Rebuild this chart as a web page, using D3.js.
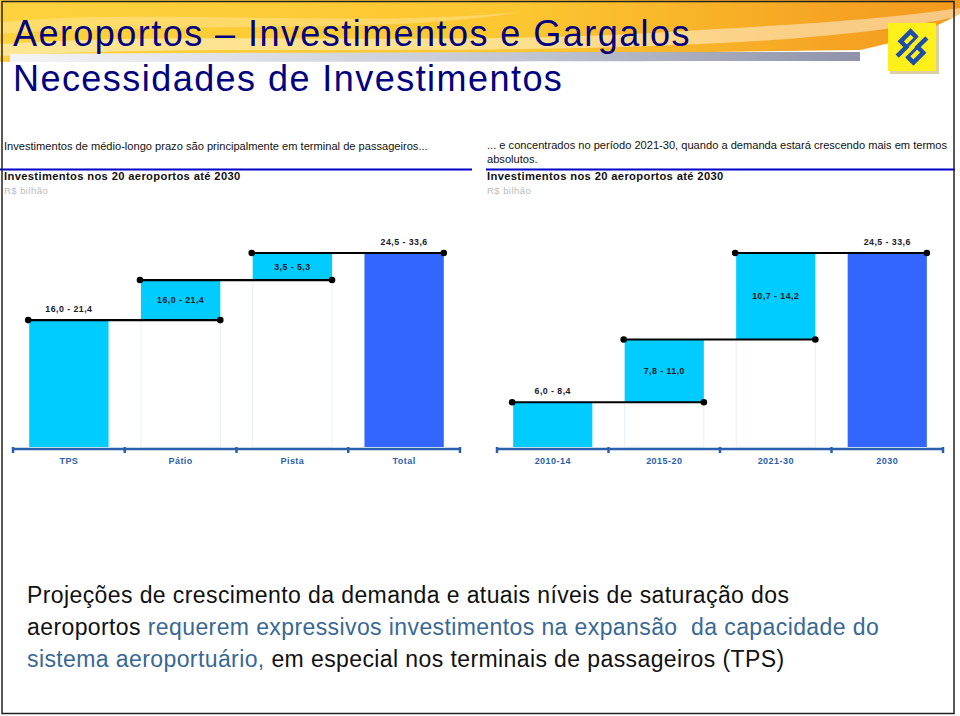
<!DOCTYPE html>
<html>
<head>
<meta charset="utf-8">
<script src="https://cdn.jsdelivr.net/npm/d3@7"></script>
<style>
  body { margin: 0; background: #fff; }
  svg { display: block; font-family: "Liberation Sans", Arial, sans-serif; }
</style>
</head>
<body>
<svg id="chart" width="960" height="716"></svg>
<script>
// left chart: breakdown by component
var catsL = ['TPS', 'Pátio', 'Pista', 'Total'];
var valsL = [19.0, 6.0, 4.05];
var labelsL = ['16,0 - 21,4', '16,0 - 21,4', '3,5 - 5,3', '24,5 - 33,6'];

// right chart: breakdown by period
var catsR = ['2010-14', '2015-20', '2021-30', '2030'];
var valsR = [6.7, 9.4, 12.95];
var labelsR = ['6,0 - 8,4', '7,8 - 11,0', '10,7 - 14,2', '24,5 - 33,6'];

var cyan = '#00ccff', blue = '#3366ff', axisCol = '#2a5fae';

var svg = d3.select('#chart');

// ---- header ----
var defs = svg.append('defs');
var g1 = defs.append('linearGradient').attr('id', 'hdr').attr('x1', 0).attr('x2', 1).attr('y1', 0).attr('y2', 0);
g1.append('stop').attr('offset', '0%').attr('stop-color', '#fdd23c');
g1.append('stop').attr('offset', '55%').attr('stop-color', '#fcc630');
g1.append('stop').attr('offset', '85%').attr('stop-color', '#f6a623');
g1.append('stop').attr('offset', '100%').attr('stop-color', '#f39a1c');
var g2 = defs.append('linearGradient').attr('id', 'band').attr('x1', 0).attr('x2', 1).attr('y1', 0).attr('y2', 0);
g2.append('stop').attr('offset', '0%').attr('stop-color', '#f4f4f6');
g2.append('stop').attr('offset', '60%').attr('stop-color', '#c3c6d2');
g2.append('stop').attr('offset', '100%').attr('stop-color', '#8e93aa');

svg.append('path')
    .attr('d', 'M0,0 H960 V14 C930,30 900,42 860,50 L0,62 Z')
    .attr('fill', 'url(#hdr)');
svg.append('path')
    .attr('d', 'M0,44 C200,30 450,48 700,30 C800,24 880,20 960,8 V16 C900,30 800,40 700,44 C450,56 200,44 0,56 Z')
    .attr('fill', '#fff').attr('opacity', 0.45);
svg.append('path')
    .attr('d', 'M0,22 C150,8 350,28 520,12 C400,34 180,22 0,34 Z')
    .attr('fill', '#fff').attr('opacity', 0.25);
svg.append('path')
    .attr('d', 'M10,54 C300,52 600,52 860,52 L860,61 C600,61 300,62 10,62 Z')
    .attr('fill', 'url(#band)');

svg.append('text').attr('x', 13).attr('y', 46)
    .attr('font-size', 36).attr('letter-spacing', 1.45).attr('fill', '#000080')
    .text('Aeroportos – Investimentos e Gargalos');
svg.append('text').attr('x', 13).attr('y', 91)
    .attr('font-size', 36).attr('letter-spacing', 1.45).attr('fill', '#000080')
    .text('Necessidades de Investimentos');

// logo
var logo = svg.append('g').attr('transform', 'translate(888,23)');
logo.append('rect').attr('x', 2).attr('y', 2).attr('width', 49).attr('height', 49).attr('fill', '#b8a24a').attr('opacity', 0.5);
logo.append('rect').attr('width', 48).attr('height', 48).attr('fill', '#ffef1a');
var lg = logo.append('g').attr('transform', 'translate(24,24) rotate(-45)');
lg.append('path')
    .attr('d', 'M-17,-4 H-4 V-12 H10 V-4 M17,4 H4 V12 H-10 V4')
    .attr('fill', 'none').attr('stroke', '#1d4fa8').attr('stroke-width', 4.5);
lg.append('path')
    .attr('d', 'M-12,-4 H12 M-12,4 H12')
    .attr('fill', 'none').attr('stroke', '#1d4fa8').attr('stroke-width', 3);

// ---- sub headings ----
svg.append('text').attr('x', 4).attr('y', 150).attr('font-size', 11.1).attr('fill', '#111')
    .text('Investimentos de médio-longo prazo são principalmente em terminal de passageiros...');
svg.append('text').attr('x', 487).attr('y', 149).attr('font-size', 11.1).attr('fill', '#111')
    .text('... e concentrados no período 2021-30, quando a demanda estará crescendo mais em termos');
svg.append('text').attr('x', 487).attr('y', 163).attr('font-size', 11.1).attr('fill', '#111')
    .text('absolutos.');

[[0, 472], [486, 955]].forEach(function(r) {
    svg.append('line').attr('x1', r[0]).attr('x2', r[1]).attr('y1', 169.5).attr('y2', 169.5)
        .attr('stroke', '#0000c8').attr('stroke-width', 2);
});
[4, 487].forEach(function(x) {
    svg.append('text').attr('x', x).attr('y', 180).attr('font-size', 11.2).attr('font-weight', 'bold')
        .attr('letter-spacing', 0.35).attr('fill', '#111')
        .text('Investimentos nos 20 aeroportos até 2030');
    svg.append('text').attr('x', x).attr('y', 194).attr('font-size', 9.6).attr('letter-spacing', 0.4)
        .attr('fill', '#bcbcbc').text('R$ bilhão');
});

// ---- waterfall charts ----
var y = d3.scaleLinear().domain([0, 29.05]).range([447, 253]);

function waterfall(cats, vals, labels, x0, x1) {
    var g = svg.append('g');
    var x = d3.scaleBand().domain(cats).range([x0, x1]).paddingInner(0.29).paddingOuter(0.145);
    var total = d3.sum(vals);
    var cum = [0];
    vals.forEach(function(v, i) { cum.push(cum[i] + v); });
    var bars = vals.map(function(v, i) {
        return {cat: cats[i], lo: cum[i], hi: cum[i + 1], label: labels[i], color: cyan, kind: i === 0 ? 'first' : 'mid'};
    });
    bars.push({cat: cats[cats.length - 1], lo: 0, hi: total, label: labels[labels.length - 1], color: blue, kind: 'total'});

    // faint outline of the invisible base parts
    g.selectAll('rect.base').data(bars.filter(function(d) { return d.lo > 0; }))
        .enter().append('rect').attr('class', 'base')
        .attr('x', function(d) { return x(d.cat); })
        .attr('y', function(d) { return y(d.lo); })
        .attr('width', x.bandwidth())
        .attr('height', function(d) { return y(0) - y(d.lo); })
        .attr('fill', 'none').attr('stroke', '#e9eff6').attr('stroke-width', 1);

    g.selectAll('rect.bar').data(bars).enter().append('rect').attr('class', 'bar')
        .attr('x', function(d) { return x(d.cat); })
        .attr('y', function(d) { return y(d.hi); })
        .attr('width', x.bandwidth())
        .attr('height', function(d) { return y(d.lo) - y(d.hi); })
        .attr('fill', function(d) { return d.color; });

    // connector lines
    var conns = vals.map(function(v, i) {
        return {x1: x(cats[i]) - 1, x2: x(cats[i + 1]) + x.bandwidth(), v: cum[i + 1]};
    });
    g.selectAll('line.conn').data(conns).enter().append('line').attr('class', 'conn')
        .attr('x1', function(d) { return d.x1; }).attr('x2', function(d) { return d.x2; })
        .attr('y1', function(d) { return y(d.v); }).attr('y2', function(d) { return y(d.v); })
        .attr('stroke', '#000').attr('stroke-width', 2.2);
    var dots = [];
    conns.forEach(function(d) { dots.push([d.x1, d.v], [d.x2, d.v]); });
    g.selectAll('circle').data(dots).enter().append('circle')
        .attr('cx', function(d) { return d[0]; }).attr('cy', function(d) { return y(d[1]); })
        .attr('r', 3.3).attr('fill', '#000');

    // value labels
    g.selectAll('text.lab').data(bars).enter().append('text').attr('class', 'lab')
        .attr('x', function(d) { return x(d.cat) + x.bandwidth() / 2; })
        .attr('y', function(d) {
            return d.kind === 'mid' ? (y(d.lo) + y(d.hi)) / 2 + 3 : y(d.hi) - 8;
        })
        .attr('text-anchor', 'middle').attr('font-size', 8.8).attr('font-weight', 'bold')
        .attr('letter-spacing', 0.45).attr('fill', '#1a1a2a')
        .text(function(d) { return d.label; });

    // axis
    var ax = g.append('g').attr('transform', 'translate(0,449)');
    ax.call(d3.axisBottom(x).tickSize(0).tickPadding(9))
        .call(function(s) { s.select('.domain').remove(); });
    ax.selectAll('text').attr('font-size', 9).attr('font-weight', 'bold').attr('letter-spacing', 0.45)
        .attr('fill', axisCol).attr('font-family', '"Liberation Sans", Arial, sans-serif');
    ax.append('line').attr('x1', x0).attr('x2', x1).attr('stroke', axisCol).attr('stroke-width', 2.5);
    var step = x.step();
    var bounds = d3.range(cats.length + 1).map(function(i) { return x0 + i * step; });
    ax.selectAll('line.tk').data(bounds).enter().append('line').attr('class', 'tk')
        .attr('x1', function(d) { return d; }).attr('x2', function(d) { return d; })
        .attr('y1', -2).attr('y2', 4).attr('stroke', axisCol).attr('stroke-width', 2.5);
}

waterfall(catsL, valsL, labelsL, 13, 460);
waterfall(catsR, valsR, labelsR, 497, 943);

// ---- bottom message ----
var blueTxt = '#386894', blackTxt = '#111';
var lines = [
    [['Projeções de crescimento da demanda e atuais níveis de saturação dos', blackTxt]],
    [['aeroportos ', blackTxt], ['requerem expressivos investimentos na expansão  da capacidade do', blueTxt]],
    [['sistema aeroportuário,', blueTxt], [' em especial nos terminais de passageiros (TPS)', blackTxt]]
];
lines.forEach(function(parts, i) {
    var t = svg.append('text').attr('x', 27).attr('y', 603 + i * 32)
        .attr('font-size', 23).attr('letter-spacing', 0.4)
        .attr('xml:space', 'preserve').style('white-space', 'pre');
    parts.forEach(function(p) { t.append('tspan').attr('fill', p[1]).text(p[0]); });
});

// slide frame
svg.append('rect').attr('x', 2).attr('y', 1.5).attr('width', 952).attr('height', 712)
    .attr('fill', 'none').attr('stroke', '#222').attr('stroke-width', 1.5);
</script>
</body>
</html>
